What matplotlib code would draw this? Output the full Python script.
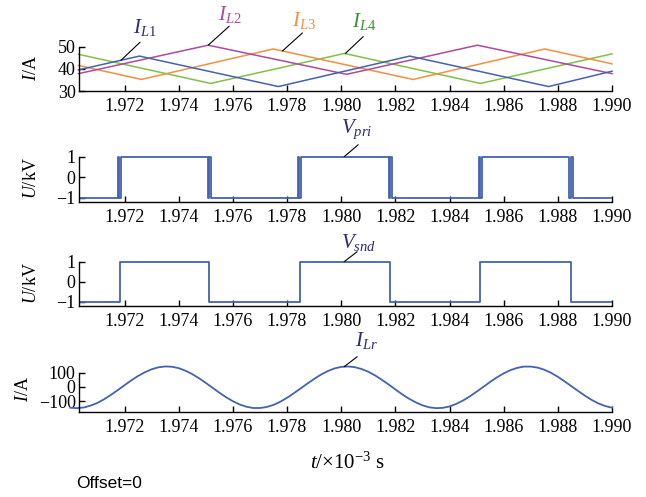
import numpy as np
import matplotlib
matplotlib.use("Agg")
import matplotlib.pyplot as plt

plt.rcParams['font.family'] = 'Liberation Serif'
plt.rcParams['mathtext.fontset'] = 'custom'
plt.rcParams['mathtext.rm'] = 'Liberation Serif'
plt.rcParams['mathtext.it'] = 'Liberation Serif:italic'
plt.rcParams['font.size'] = 13

# inductor currents (vertices of the triangular ripple), t in ms
t_L1 = [1.9703, 1.97255, 1.97768, 1.98253, 1.98766, 1.9900]
i_L1 = [39.5, 45.7, 32.0, 45.7, 32.0, 38.9]
t_L2 = [1.9703, 1.97509, 1.98020, 1.98503, 1.9900]
i_L2 = [37.8, 50.6, 37.5, 50.6, 37.8]
t_L3 = [1.9703, 1.97262, 1.97749, 1.98265, 1.98752, 1.9900]
i_L3 = [41.5, 35.2, 48.9, 35.2, 48.9, 42.2]
t_L4 = [1.9703, 1.97518, 1.98012, 1.98514, 1.9900]
i_L4 = [46.5, 33.4, 46.9, 33.4, 46.7]

# primary voltage (kV) with switching bounce at each edge
t_pri = [1.9703, 1.97176, 1.97181, 1.97188, 1.97508, 1.97513, 1.97520,
         1.97841, 1.97846, 1.97853, 1.98175, 1.98180, 1.98187,
         1.98508, 1.98513, 1.98520, 1.98843, 1.98848, 1.98855, 1.9900]
v_pri = [-1, 1, -1, 1, -1, 1, -1, 1, -1, 1, -1, 1, -1,
         1, -1, 1, -1, 1, -1, -1]

# secondary voltage (kV)
t_snd = [1.9703, 1.97184, 1.97512, 1.97847, 1.98180, 1.98513, 1.98847, 1.9900]
v_snd = [-1, 1, -1, 1, -1, 1, -1, -1]

# resonant inductor current (A), sampled every 0.25 us from 1.9700 ms
i_Lr = [-147, -150, -145, -132, -113, -87, -56, -23, 12, 46,
        77, 103, 124, 138, 144, 142, 132, 114, 90, 61,
        28, -6, -41, -73, -101, -124, -140, -149, -149, -142,
        -127, -105, -77, -45, -11, 23, 56, 86, 111, 130,
        141, 144, 139, 126, 107, 81, 50, 17, -18, -52,
        -83, -109, -130, -144, -150, -148, -138, -120, -96, -67,
        -34, 0, 35, 67, 95, 118, 134, 143, 143, 136,
        121, 99, 71, 39, 5, -29, -62, -92, -117, -135, -147]
t_Lr = 1.9700 + 0.00025 * np.arange(len(i_Lr))

xticks = [1.972, 1.974, 1.976, 1.978, 1.980, 1.982, 1.984, 1.986, 1.988, 1.990]
xtick_labels = ["%.3f" % v for v in xticks]

c_blue = '#4462b0'
c_purple = '#b04a9c'
c_orange = '#f0913f'
c_green = '#80c146'
c_navy = '#2b2b7a'

W, H = 646, 497
fig = plt.figure(figsize=(W / 100, H / 100), dpi=100)

left = 78.5 / W
width = (612 - 78.5) / W


def make_axes(top_px, bot_px, ylim, yticks, ylabel, spine_bounds, label_x):
    ax = fig.add_axes([left, 1 - bot_px / H, width, (bot_px - top_px) / H])
    ax.set_xlim(1.9703, 1.9900)
    ax.set_ylim(*ylim)
    ax.set_xticks(xticks)
    ax.set_xticklabels(xtick_labels)
    ax.set_yticks(yticks)
    ax.set_yticklabels([str(v).replace('-', '\u2212') for v in yticks])
    for s in ('top', 'right'):
        ax.spines[s].set_visible(False)
    for s in ('left', 'bottom'):
        ax.spines[s].set_linewidth(1.0)
    ax.spines['left'].set_bounds(*spine_bounds)
    ax.tick_params(direction='in', length=4.5, width=1.0)
    ax.tick_params(axis='x', pad=5)
    ax.tick_params(axis='y', pad=2)
    ax.set_ylabel(ylabel)
    ax.yaxis.set_label_coords(label_x, 0.5)
    ax.patch.set_visible(False)
    return ax


def leader(ax, x, y, label, color, dl, dt):
    ax.annotate('', xy=(x, y), xytext=dl, textcoords='offset pixels',
                arrowprops=dict(arrowstyle='-', color='black', lw=0.8,
                                shrinkA=0, shrinkB=0),
                annotation_clip=False)
    ax.annotate(label, xy=(x, y), xytext=dt, textcoords='offset pixels',
                ha='center', va='center', color=color, fontsize=15,
                annotation_clip=False)


# inductor currents
ax1 = make_axes(44.3, 91, (30, 51), [30, 40, 50], r'$I$/A', (30, 50), -0.072)
ax1.plot(t_L4, i_L4, color=c_green, lw=1.1, clip_on=False)
ax1.plot(t_L3, i_L3, color=c_orange, lw=1.1, clip_on=False)
ax1.plot(t_L2, i_L2, color=c_purple, lw=1.1, clip_on=False)
ax1.plot(t_L1, i_L1, color=c_blue, lw=1.1, clip_on=False)
leader(ax1, 1.97187, np.interp(1.97187, t_L1, i_L1), r'$I_{L1}$', c_navy, (19, 18), (24, 33))
leader(ax1, 1.97509, np.interp(1.97509, t_L2, i_L2), r'$I_{L2}$', c_purple, (21, 19), (22, 31))
leader(ax1, 1.97783, np.interp(1.97783, t_L3, i_L3), r'$I_{L3}$', c_orange, (20, 18), (22, 30))
leader(ax1, 1.98015, np.interp(1.98015, t_L4, i_L4), r'$I_{L4}$', '#3f8f3a', (18, 17), (19, 32))

# primary voltage
ax2 = make_axes(155.1, 201.8, (-1.2, 1.08), [-1, 0, 1], r'$U$/kV', (-1.2, 1), -0.072)
ax2.plot(t_pri, v_pri, color=c_blue, lw=1.3, drawstyle='steps-post')
leader(ax2, 1.98011, 1, r'$V_{pri}$', c_navy, (14, 12), (13, 27))

# secondary voltage
ax3 = make_axes(260.1, 305.7, (-1.2, 1.08), [-1, 0, 1], r'$U$/kV', (-1.2, 1), -0.072)
ax3.plot(t_snd, v_snd, color=c_blue, lw=1.3, drawstyle='steps-post')
leader(ax3, 1.98011, 1, r'$V_{snd}$', c_navy, (13, 10), (14, 19))

# resonant current
ax4 = make_axes(365.6, 411.7, (-175, 150), [-100, 0, 100], r'$I$/A', (-175, 100), -0.087)
ax4.plot(t_Lr, i_Lr, color=c_blue, lw=1.3, clip_on=False)
leader(ax4, 1.98011, np.interp(1.98011, t_Lr, i_Lr), r'$I_{Lr}$', c_navy, (13, 10), (22, 26))
ax4.set_xlabel(r'$t$/×10$^{-3}$ s', fontsize=15)
ax4.xaxis.set_label_coords(0.504, -0.88)

fig.text(76 / W, 1 - 484 / H, 'Offset=0', family='Liberation Sans',
         fontsize=12.5, va='center', ha='left')

fig.savefig('out.png', dpi=100, facecolor='white')
